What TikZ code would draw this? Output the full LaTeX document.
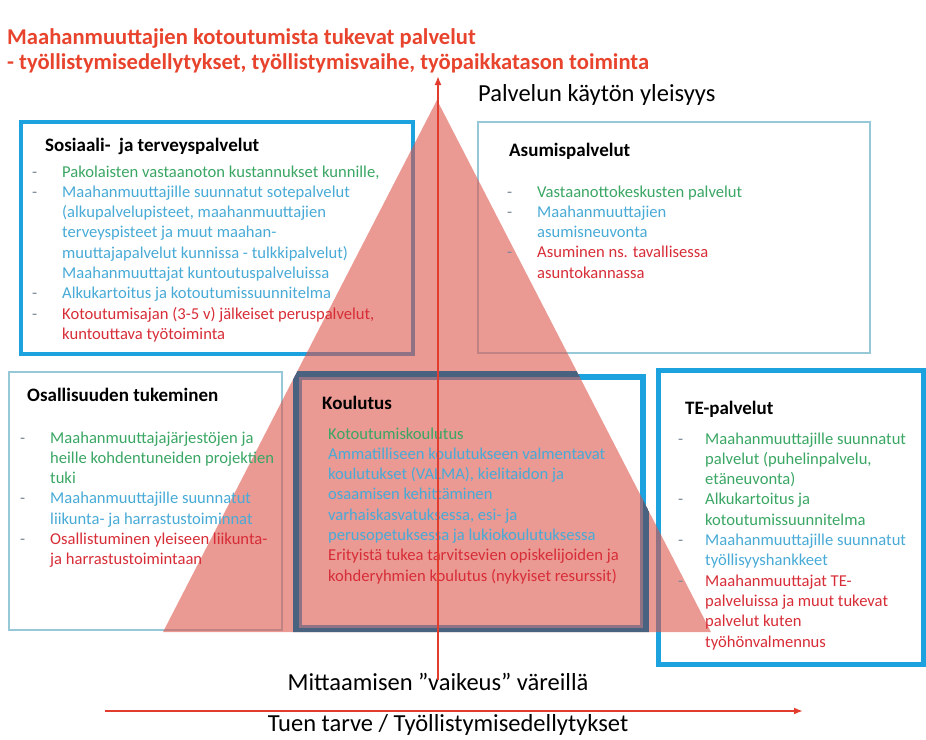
\documentclass[tikz,border=0pt]{standalone}
\usepackage{fontspec}
\setmainfont{Carlito}
\usetikzlibrary{arrows.meta}
\definecolor{titlered}{RGB}{232,68,45}
\definecolor{tgreen}{RGB}{58,166,100}
\definecolor{tblue}{RGB}{72,170,214}
\definecolor{tred}{RGB}{215,45,55}
\definecolor{dashgrey}{RGB}{120,135,150}
\definecolor{boxblue}{RGB}{28,162,222}
\definecolor{lightbox}{RGB}{150,200,215}
\definecolor{slate}{RGB}{72,98,128}
\definecolor{arrred}{RGB}{225,60,45}
\definecolor{trifill}{RGB}{220,85,75}
\newlength\dind
\newcommand\blitem[2]{\makebox[\dind][l]{\textcolor{dashgrey}{-}}\textcolor{#1}{#2}}
\newcommand\clitem[2]{\hspace*{\dind}\textcolor{#1}{#2}}
\begin{document}
\begin{tikzpicture}[x=1pt,y=-1pt,
  thickbox/.style={draw=boxblue, line width=4pt, inner sep=0pt},
  thinbox/.style={draw=lightbox, line width=2pt, inner sep=0pt},
  kbox/.style={draw=boxblue, line width=6pt, inner sep=0pt},
  head/.style={anchor=base west, inner sep=0pt, font=\fontsize{19}{23}\selectfont\bfseries},
  body/.style={anchor=base west, inner sep=0pt, font=\fontsize{16.6}{20.3}\selectfont},
  big/.style={inner sep=0pt, font=\fontsize{24.5}{29}\selectfont},
  arr/.style={draw=arrred, line width=2pt, -{Latex[length=9pt,width=7pt]}}]
\useasboundingbox (0,0) rectangle (926,739);

% boxes
\node[thickbox, minimum width=392pt, minimum height=232pt] (sos) at (217,238) {};
\node[thinbox, minimum width=392pt, minimum height=231pt] (asu) at (674,237.5) {};
\node[thinbox, minimum width=273pt, minimum height=258pt] (osa) at (145.5,501) {};
\node[thickbox, line width=5pt, minimum width=265pt, minimum height=294pt] (te) at (790.5,517) {};
\node[kbox, minimum width=344pt, minimum height=251pt] (kou) at (471,502.5) {};

% triangle
\coordinate (apex) at (437,100);
\coordinate (tbl) at (163,632);
\coordinate (tbr) at (711,632);
\fill[trifill, fill opacity=0.6] (apex) -- (tbl) -- (tbr) -- cycle;
\begin{scope}
\clip (apex) -- (tbl) -- (tbr) -- cycle;
\draw[slate, line width=6pt] (kou.north west) rectangle (kou.south east);
\end{scope}

% title
\node[anchor=base west, inner sep=0pt] (title) at (7,29) {\parbox[t]{760pt}{\fontsize{22.6}{25}\selectfont\bfseries\color{titlered}Maahanmuuttajien kotoutumista tukevat palvelut\\- työllistymisedellytykset, työllistymisvaihe, työpaikkatason toiminta}};

% Sosiaali
\node[head] (sosh) at (45,151) {Sosiaali-~ ja terveyspalvelut};
\node[body] (sosb) at (32,177) {\parbox[t]{380pt}{\setlength\dind{30pt}\raggedright
\blitem{tgreen}{Pakolaisten vastaanoton kustannukset kunnille,}\\
\blitem{tblue}{Maahanmuuttajille suunnatut sotepalvelut}\\
\clitem{tblue}{(alkupalvelupisteet, maahanmuuttajien}\\
\clitem{tblue}{terveyspisteet ja muut maahan-}\\
\clitem{tblue}{muuttajapalvelut kunnissa - tulkkipalvelut)}\\
\clitem{tblue}{Maahanmuuttajat kuntoutuspalveluissa}\\
\blitem{tblue}{Alkukartoitus ja kotoutumissuunnitelma}\\
\blitem{tred}{Kotoutumisajan (3-5 v) jälkeiset peruspalvelut,}\\
\clitem{tred}{kuntouttava työtoiminta}}};

% Asumis
\node[head] (asuh) at (509,156) {Asumispalvelut};
\node[body] (asub) at (507,197) {\parbox[t]{340pt}{\setlength\dind{30pt}\raggedright
\blitem{tgreen}{Vastaanottokeskusten palvelut}\\
\blitem{tblue}{Maahanmuuttajien}\\
\clitem{tblue}{asumisneuvonta}\\
\blitem{tred}{Asuminen ns. tavallisessa}\\
\clitem{tred}{asuntokannassa}}};

% Osallisuuden
\node[head] (osah) at (27,401) {Osallisuuden tukeminen};
\node[body] (osab) at (20,443) {\parbox[t]{270pt}{\setlength\dind{30pt}\raggedright
\blitem{tgreen}{Maahanmuuttajajärjestöjen ja}\\
\clitem{tgreen}{heille kohdentuneiden projektien}\\
\clitem{tgreen}{tuki}\\
\blitem{tblue}{Maahanmuuttajille suunnatut}\\
\clitem{tblue}{liikunta- ja harrastustoiminnat}\\
\blitem{tred}{Osallistuminen yleiseen liikunta-}\\
\clitem{tred}{ja harrastustoimintaan}}};

% Koulutus
\node[head] (kouh) at (322,409) {Koulutus};
\node[body] (koub) at (328,439) {\parbox[t]{320pt}{\setlength\dind{0pt}\raggedright
\clitem{tgreen}{Kotoutumiskoulutus}\\
\clitem{tblue}{Ammatilliseen koulutukseen valmentavat}\\
\clitem{tblue}{koulutukset (VALMA), kielitaidon ja}\\
\clitem{tblue}{osaamisen kehittäminen}\\
\clitem{tblue}{varhaiskasvatuksessa, esi- ja}\\
\clitem{tblue}{perusopetuksessa ja lukiokoulutuksessa}\\
\clitem{tred}{Erityistä tukea tarvitsevien opiskelijoiden ja}\\
\clitem{tred}{kohderyhmien koulutus (nykyiset resurssit)}}};

% TE
\node[head] (teh) at (685,414) {TE-palvelut};
\node[body] (teb) at (678,444) {\parbox[t]{240pt}{\setlength\dind{27pt}\raggedright
\blitem{tgreen}{Maahanmuuttajille suunnatut}\\
\clitem{tgreen}{palvelut (puhelinpalvelu,}\\
\clitem{tgreen}{etäneuvonta)}\\
\blitem{tgreen}{Alkukartoitus ja}\\
\clitem{tgreen}{kotoutumissuunnitelma}\\
\blitem{tblue}{Maahanmuuttajille suunnatut}\\
\clitem{tblue}{työllisyyshankkeet}\\
\blitem{tred}{Maahanmuuttajat TE-}\\
\clitem{tred}{palveluissa ja muut tukevat}\\
\clitem{tred}{palvelut kuten}\\
\clitem{tred}{työhönvalmennus}}};

% axis labels
\node[big, anchor=base west] (yleis) at (478,101) {Palvelun käytön yleisyys};
\node[big, anchor=base] (mitt) at (438,690) {Mittaamisen ”vaikeus” väreillä};
\node[big, anchor=base] (tuen) at (448,731) {Tuen tarve / Työllistymisedellytykset};

% arrows
\coordinate (vbot) at (438,680);
\coordinate (vtop) at (438,76);
\draw[arr] (vbot) -- (vtop);
\coordinate (hl) at (105,711);
\coordinate (hr) at (803,711);
\draw[arr] (hl) -- (hr);
\end{tikzpicture}
\end{document}
